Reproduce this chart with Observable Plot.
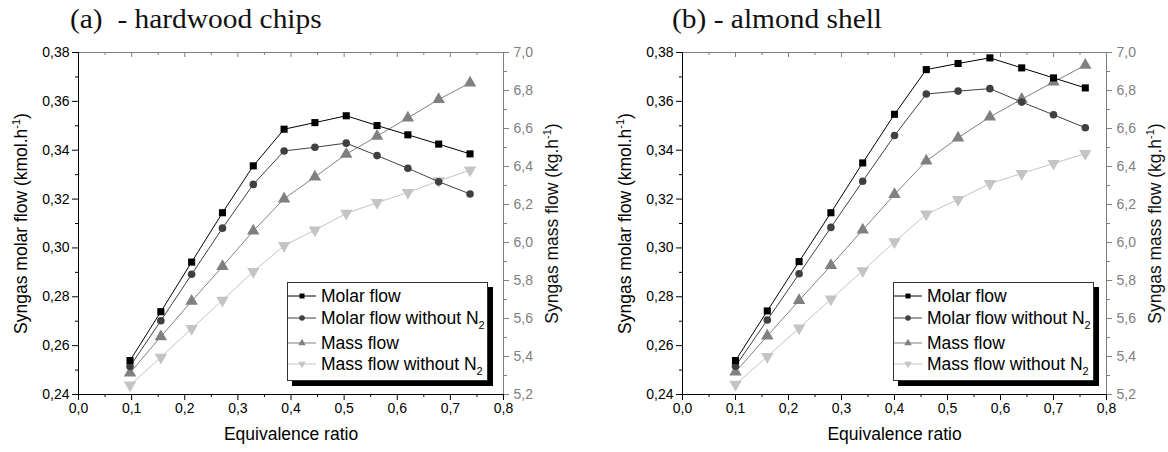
<!DOCTYPE html>
<html>
<head>
<meta charset="utf-8">
<script src="https://cdn.jsdelivr.net/npm/d3@7"></script>
<script src="https://cdn.jsdelivr.net/npm/@observablehq/plot@0.6"></script>
<style>
  body { margin: 0; background: #fff; }
  #root { position: relative; width: 1168px; height: 452px; overflow: hidden; font-family: "Liberation Sans", Arial, sans-serif; }
  .panel { position: absolute; top: 0; width: 584px; height: 452px; }
  .panel svg { position: absolute; left: 0; top: 0; overflow: visible; }
  .title { position: absolute; top: 6px; font-family: "Liberation Serif", "Times New Roman", serif; font-size: 27px; line-height: 27px; white-space: pre; color: #111; transform: scaleX(1.09); transform-origin: 0 0; }
  .legend { position: absolute; top: 282px; width: 199px; height: 97px; border: 1px solid #333; background: #fff; box-shadow: 5px 5px 0 #000; font-size: 17.5px; color: #000; }
  .row { position: absolute; left: 0; height: 20px; display: flex; align-items: center; white-space: nowrap; }
  .row svg { position: static; display: block; }
  .row span { margin-left: 4px; line-height: 20px; }
  .row sub { font-size: 11px; vertical-align: -5px; line-height: 0; }
</style>
</head>
<body>
<div id="root"></div>
<script>
// ---------- data ----------
const xA = [0.097, 0.155, 0.213, 0.271, 0.329, 0.387, 0.445, 0.504, 0.562, 0.620, 0.678, 0.737];
const molarA = [0.2539, 0.2739, 0.2942, 0.3144, 0.3336, 0.3486, 0.3513, 0.3541, 0.3501, 0.3463, 0.3425, 0.3385];
const molarN2A = [0.2515, 0.2702, 0.2892, 0.3081, 0.3260, 0.3397, 0.3412, 0.3429, 0.3378, 0.3326, 0.3271, 0.3221];
const massA = [5.314, 5.505, 5.691, 5.874, 6.061, 6.230, 6.345, 6.465, 6.560, 6.656, 6.753, 6.840];
const massN2A = [5.249, 5.396, 5.547, 5.696, 5.847, 5.984, 6.065, 6.153, 6.210, 6.263, 6.324, 6.381];

const xB = [0.10, 0.16, 0.22, 0.28, 0.34, 0.40, 0.46, 0.52, 0.58, 0.64, 0.70, 0.76];
const molarB = [0.2539, 0.2742, 0.2944, 0.3144, 0.3348, 0.3547, 0.3730, 0.3755, 0.3778, 0.3737, 0.3696, 0.3655];
const molarN2B = [0.2516, 0.2705, 0.2894, 0.3084, 0.3273, 0.3460, 0.3630, 0.3642, 0.3652, 0.3597, 0.3545, 0.3492];
const massB = [5.319, 5.508, 5.695, 5.879, 6.066, 6.253, 6.429, 6.551, 6.661, 6.754, 6.845, 6.933];
const massN2B = [5.253, 5.400, 5.550, 5.702, 5.851, 6.003, 6.149, 6.226, 6.310, 6.363, 6.416, 6.468];

const titles = ["(a)  - hardwood chips", "(b) - almond shell"];
const seriesNames = ["Molar flow", "Molar flow without N2", "Mass flow", "Mass flow without N2"];
const xLabel = "Equivalence ratio";
const yLabel = "Syngas molar flow (kmol.h-1)";
const y2Label = "Syngas mass flow (kg.h-1)";

const xDomain = [0, 0.8];
const yDomain = [0.24, 0.38];
const massDomain = [5.2, 7.0];
const xTicks = [0, 0.1, 0.2, 0.3, 0.4, 0.5, 0.6, 0.7, 0.8];
const xMinor = [0.05, 0.15, 0.25, 0.35, 0.45, 0.55, 0.65, 0.75];
const yTicks = [0.24, 0.26, 0.28, 0.30, 0.32, 0.34, 0.36, 0.38];
const yMinor = [0.25, 0.27, 0.29, 0.31, 0.33, 0.35, 0.37];
const massTicks = [5.2, 5.4, 5.6, 5.8, 6.0, 6.2, 6.4, 6.6, 6.8, 7.0];
const massMinor = [5.3, 5.5, 5.7, 5.9, 6.1, 6.3, 6.5, 6.7, 6.9];

// ---------- helpers ----------
const k = (yDomain[1] - yDomain[0]) / (massDomain[1] - massDomain[0]);
const toY = m => yDomain[0] + (m - massDomain[0]) * k;
const fromY = y => massDomain[0] + (y - yDomain[0]) / k;
const fmt = (d, n) => (+d).toFixed(n).replace(".", ",");

const styles = [
  {key: "molar",   fill: "#000000", line: "#000000", symbol: "square",   r: 4.0, rotate: 0},
  {key: "molarN2", fill: "#404040", line: "#404040", symbol: "circle",   r: 3.8, rotate: 0},
  {key: "mass",    fill: "#808080", line: "#808080", symbol: "triangle", r: 4.6, rotate: 0},
  {key: "massN2",  fill: "#c4c4c4", line: "#c4c4c4", symbol: "triangle", r: 4.6, rotate: 180}
];
const drawOrder = [3, 2, 1, 0];
const GRAY = "#808080";

function makePanel(cfg) {
  const {x, molar, molarN2, mass, massN2, marginLeft, marginRight} = cfg;
  const W = 584, H = 452, mt = 52, mb = 58;
  const ph = H - mt - mb;
  const rows = x.map((xv, i) => ({
    x: xv, molar: molar[i], molarN2: molarN2[i], mass: toY(mass[i]), massN2: toY(massN2[i])
  }));
  const marks = [
    Plot.axisY(yTicks, {anchor: "left", tickSize: 6, tickPadding: 3, tickFormat: d => fmt(d, 2), label: null, color: "#000"}),
    Plot.axisY(yMinor, {anchor: "left", tickSize: 3, tickFormat: () => "", label: null, color: "#000"}),
    Plot.axisX(xTicks, {anchor: "bottom", tickSize: 6, tickPadding: 3, tickFormat: d => fmt(d, 1), label: null, color: "#000"}),
    Plot.axisX(xMinor, {anchor: "bottom", tickSize: 3, tickFormat: () => "", label: null, color: "#000"}),
    Plot.axisY(massTicks.map(toY), {anchor: "right", tickSize: 5, tickPadding: 5, tickFormat: d => fmt(fromY(d), 1), label: null, color: GRAY}),
    Plot.axisY(massMinor.map(toY), {anchor: "right", tickSize: 3, tickFormat: () => "", label: null, color: GRAY}),
    Plot.tickX(xTicks, {x: d => d, stroke: GRAY, insetBottom: ph - 5}),
    Plot.tickX(xMinor, {x: d => d, stroke: GRAY, insetBottom: ph - 3}),
    Plot.ruleY([yDomain[1]], {stroke: GRAY}),
    Plot.ruleX([xDomain[1]], {stroke: GRAY}),
    Plot.ruleX([xDomain[0]], {stroke: "#000"}),
    Plot.ruleY([yDomain[0]], {stroke: "#000"}),
  ];
  for (const i of drawOrder) {
    const s = styles[i];
    marks.push(Plot.line(rows, {x: "x", y: s.key, stroke: s.line, strokeWidth: 1}));
    marks.push(Plot.dot(rows, {x: "x", y: s.key, symbol: s.symbol, r: s.r, fill: s.fill, stroke: "none", rotate: s.rotate}));
  }
  marks.push(
    Plot.text([xLabel], {text: d => d, frameAnchor: "bottom", textAnchor: "middle", dy: 45, fontSize: 17.5, fill: "#000"}),
    Plot.text([yLabel], {text: d => d, frameAnchor: "left", textAnchor: "middle", rotate: -90, dx: -57, fontSize: 17.5, fill: "#000"}),
    Plot.text([y2Label], {text: d => d, frameAnchor: "right", textAnchor: "middle", rotate: -90, dx: 49, fontSize: 17.5, fill: "#111"})
  );
  const svg = Plot.plot({
    width: W, height: H,
    marginTop: mt, marginBottom: mb, marginLeft, marginRight,
    x: {domain: xDomain, label: null},
    y: {domain: yDomain, label: null},
    style: {fontFamily: "'Liberation Sans', Arial, sans-serif", fontSize: "14px", background: "transparent", overflow: "visible"},
    marks
  });
  d3.select(svg).selectAll("text").each(function () {
    const t = this.textContent;
    if (t.endsWith("h-1)")) {
      const base = t.slice(0, -3);
      const el = d3.select(this);
      el.text(null);
      el.append("tspan").text(base);
      el.append("tspan").attr("dy", -7).attr("font-size", 11).text("-1");
      el.append("tspan").attr("dy", 7).text(")");
    }
  });
  return svg;
}

function legendRow(s, name, top) {
  const row = document.createElement("div");
  row.className = "row";
  row.style.top = (top - 10) + "px";
  const sw = d3.create("svg").attr("width", 29).attr("height", 20);
  sw.append("line").attr("x1", 0).attr("x2", 28).attr("y1", 10).attr("y2", 10).attr("stroke", s.line).attr("stroke-width", 1);
  const sym = s.symbol === "square" ? d3.symbolSquare : s.symbol === "circle" ? d3.symbolCircle : d3.symbolTriangle;
  sw.append("path").attr("d", d3.symbol(sym, Math.PI * 2.8 * 2.8)())
    .attr("transform", `translate(14,10) rotate(${s.rotate})`).attr("fill", s.fill);
  row.appendChild(sw.node());
  const span = document.createElement("span");
  span.innerHTML = name.endsWith("N2") ? name.slice(0, -1) + "<sub>2</sub>" : name;
  row.appendChild(span);
  return row;
}

const panels = [
  {x: xA, molar: molarA, molarN2: molarN2A, mass: massA, massN2: massN2A, left: 0, marginLeft: 78, marginRight: 81, titleX: 70, legendX: 287},
  {x: xB, molar: molarB, molarN2: molarN2B, mass: massB, massN2: massN2B, left: 584, marginLeft: 98, marginRight: 62, titleX: 88, legendX: 309}
];
const rowTops = [13, 35, 60, 81];

const root = document.getElementById("root");
panels.forEach((p, pi) => {
  const div = document.createElement("div");
  div.className = "panel";
  div.style.left = p.left + "px";
  div.appendChild(makePanel(p));
  const title = document.createElement("div");
  title.className = "title";
  title.style.left = p.titleX + "px";
  title.textContent = titles[pi];
  div.appendChild(title);
  const lg = document.createElement("div");
  lg.className = "legend";
  lg.style.left = p.legendX + "px";
  styles.forEach((s, i) => lg.appendChild(legendRow(s, seriesNames[i], rowTops[i])));
  div.appendChild(lg);
  root.appendChild(div);
});
</script>
</body>
</html>
